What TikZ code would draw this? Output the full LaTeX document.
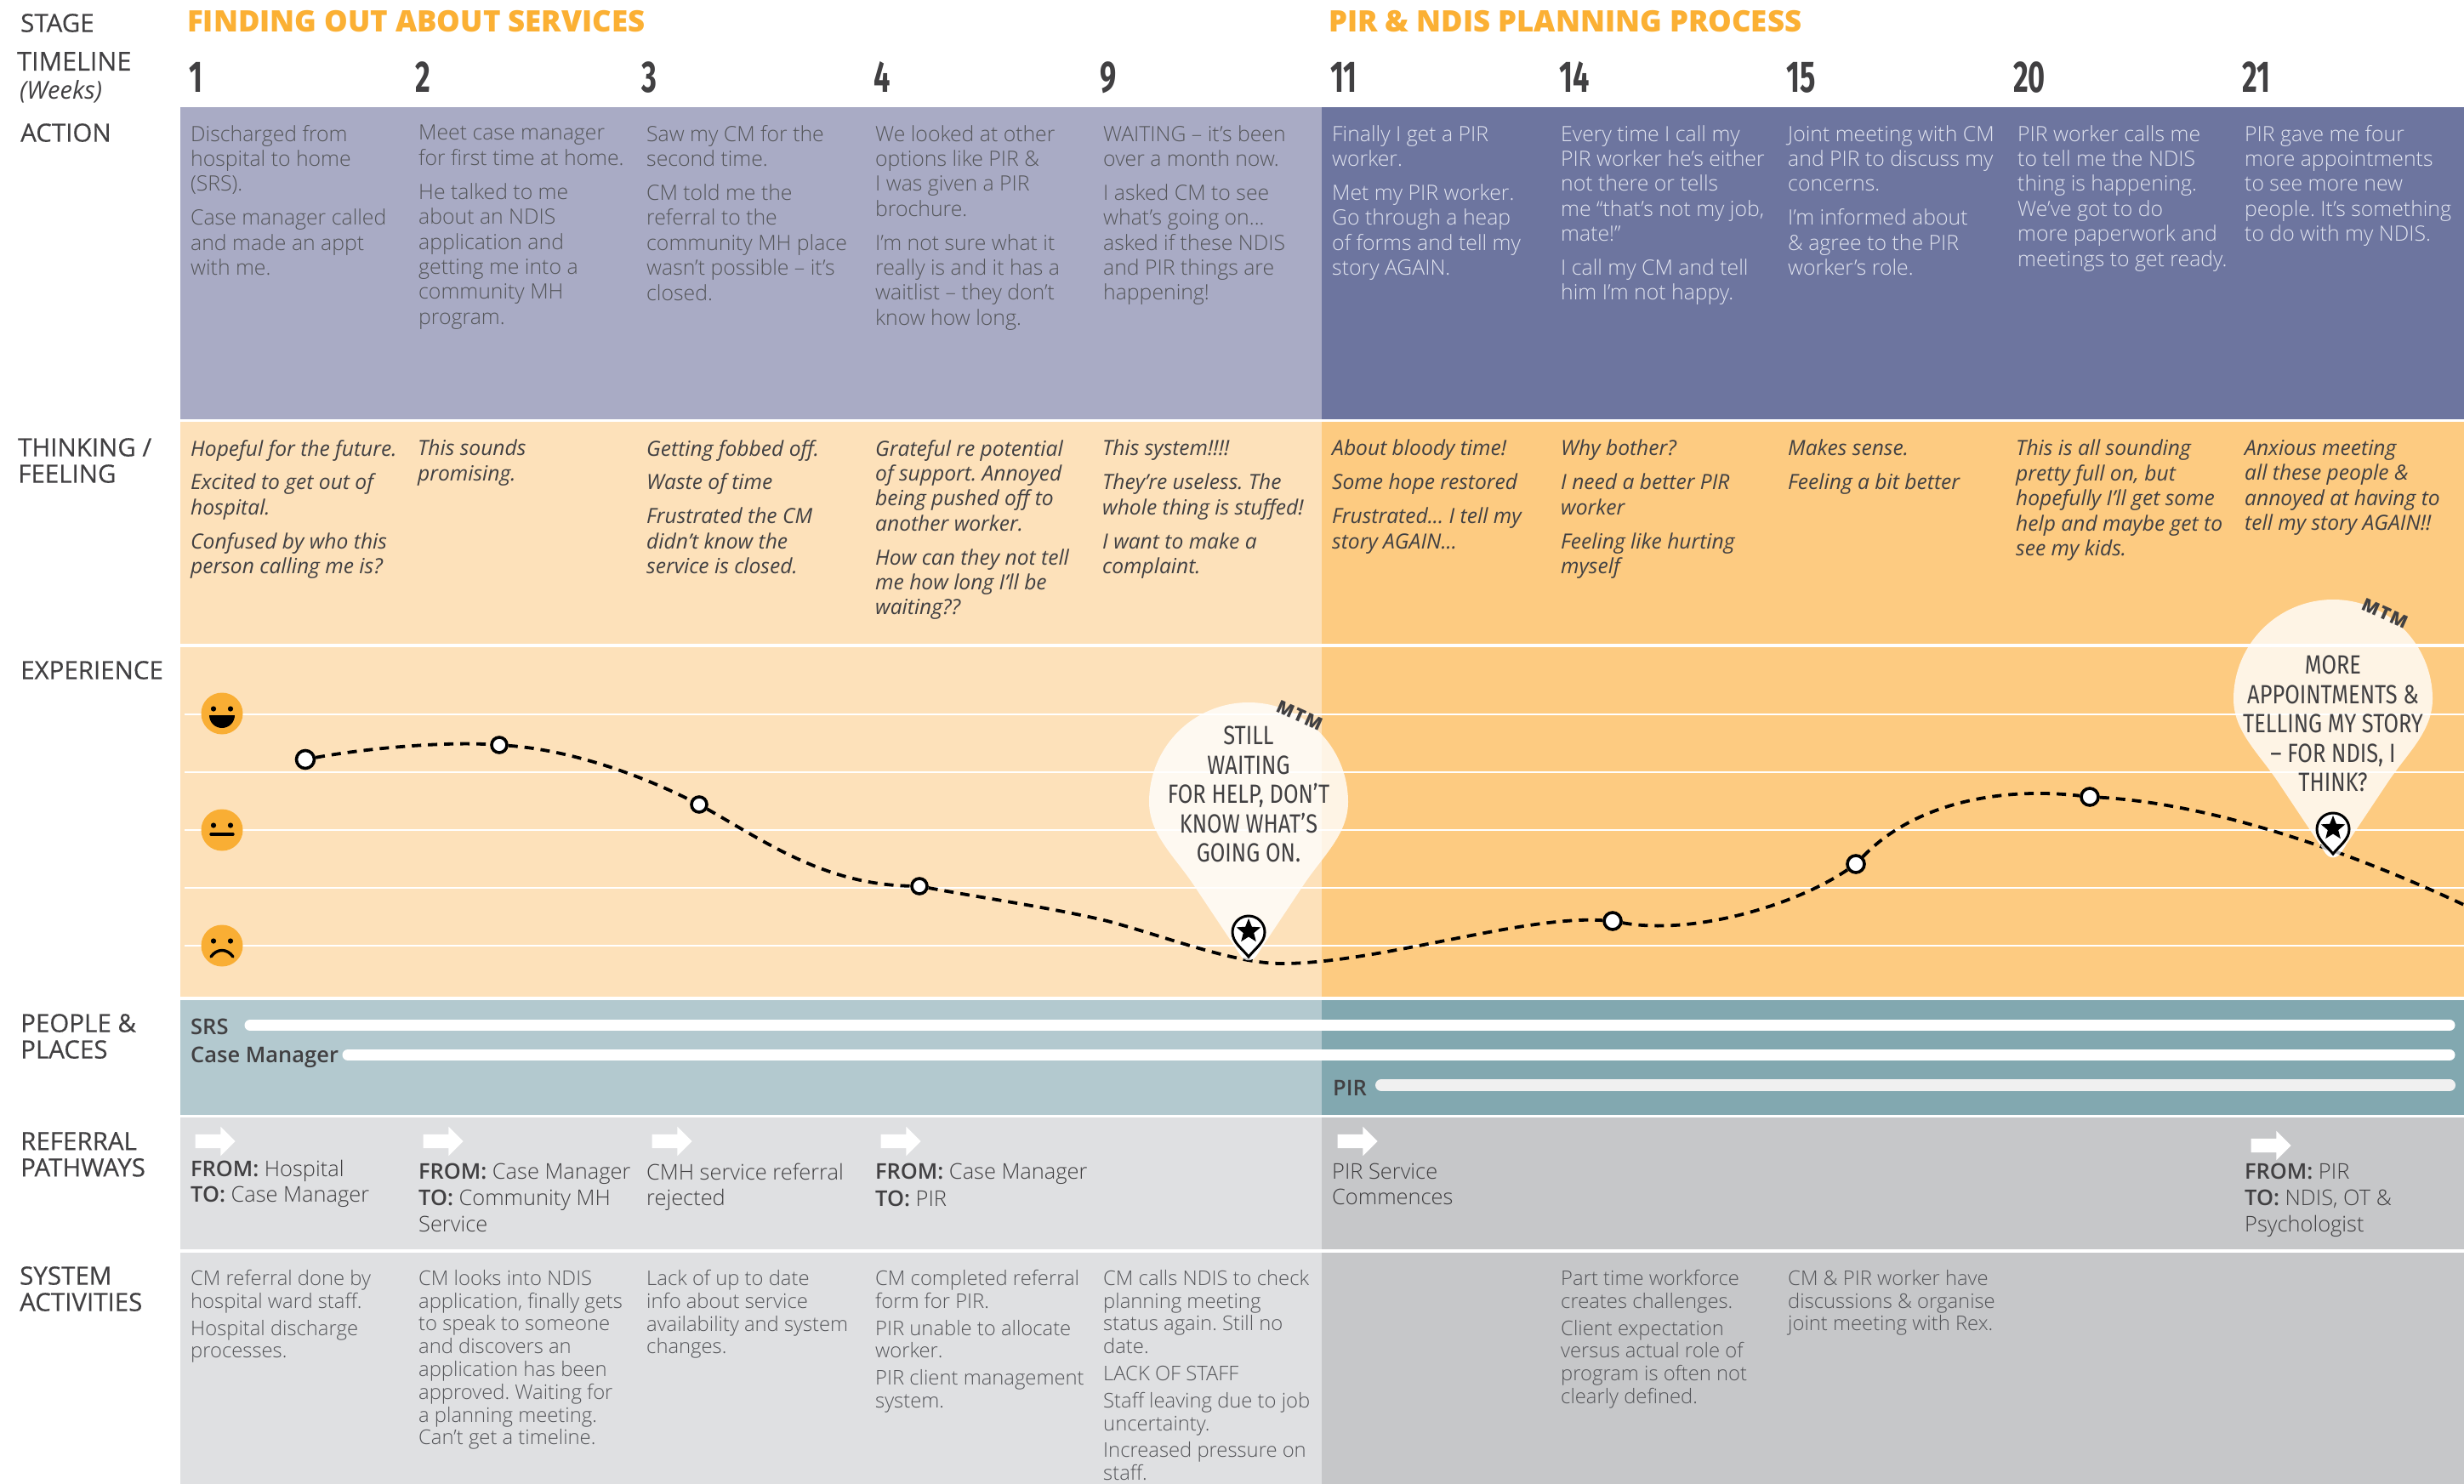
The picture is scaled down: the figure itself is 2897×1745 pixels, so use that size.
\documentclass[tikz,border=0pt]{standalone}
\usepackage{fontspec}
\usepackage{xcolor}
\usetikzlibrary{positioning,shapes.geometric,shapes.arrows}
\setmainfont{Open Sans}
\newfontfamily\lightfont{Open Sans Light}
\newfontfamily\semifont{Open Sans Semibold}
\newfontfamily\heavyfont{Open Sans Extrabold}
\newfontfamily\labelfont[FakeBold=0.35]{Open Sans}
\newfontfamily\handfont[FakeStretch=0.66]{Fira Sans}
\newfontfamily\bubblefont[FakeStretch=0.82]{Fira Sans}
\newfontfamily\mtmfont[LetterSpace=8]{Open Sans Extrabold}
\definecolor{actionA}{HTML}{A9ABC5}
\definecolor{actionB}{HTML}{6D759F}
\definecolor{feelA}{HTML}{FDE1BA}
\definecolor{feelB}{HTML}{FDCB81}
\definecolor{peopleA}{HTML}{B3C9CF}
\definecolor{peopleB}{HTML}{82A8B0}
\definecolor{greyA}{HTML}{DFE0E2}
\definecolor{greyB}{HTML}{C6C7C9}
\definecolor{headline}{HTML}{FBB034}
\definecolor{ink}{HTML}{414042}
\definecolor{softink}{HTML}{55565A}
\definecolor{paleink}{HTML}{E0E3EF}
\definecolor{facefill}{HTML}{F9AE34}
\newcommand{\bigpara}{\\[10.5pt]}
\newcommand{\sysgap}{\\[5pt]}
\newcommand{\refbold}[1]{{\semifont #1}}
\newcommand{\balloonpath}{(-117,0) arc[start angle=180,end angle=0,radius=117pt] .. controls (117,38) and (87,64) .. (65,97) -- (9,181) .. controls (4,188) and (-4,188) .. (-9,181) -- (-65,97) .. controls (-87,64) and (-117,38) .. (-117,0) -- cycle}
\tikzset{
  basic/.style   = {anchor=north west, inner sep=0pt, align=left, execute at begin node=\rule{0pt}{20pt}},
  rowlabel/.style = {basic, text=ink, font={\labelfont\fontsize{29.5}{31}\selectfont}},
  stagehead/.style = {basic, text=headline, font={\heavyfont\fontsize{34.8}{36}\selectfont}},
  weeknum/.style = {anchor=base west, inner sep=0pt, text=ink, font={\handfont\fontsize{52}{52}\selectfont\bfseries}},
  action/.style  = {basic, text=softink, font={\lightfont\fontsize{24.8}{29.4}\selectfont}},
  actionlight/.style = {action, text=paleink},
  feeling/.style = {basic, text=ink, font={\fontsize{24.6}{29.4}\selectfont\itshape}},
  refer/.style   = {basic, text=ink, font={\lightfont\fontsize{25.4}{30}\selectfont}},
  system/.style  = {basic, text=softink, font={\lightfont\fontsize{23.8}{26.8}\selectfont}},
  person/.style  = {basic, text=ink, font={\semifont\fontsize{25.5}{30}\selectfont}},
  bar/.style     = {line cap=round, line width=13pt, white},
  stop/.style    = {circle, draw=black, fill=white, line width=3.6pt, inner sep=0pt, minimum size=18pt},
  face/.style    = {circle, fill=facefill, inner sep=0pt, minimum size=49pt},
  feature/.style = {line width=3.4pt, black, line cap=round},
  eye/.style     = {fill=black},
  whitearrow/.style = {single arrow, fill=white, inner xsep=0pt, inner ysep=8pt, minimum height=47pt,
                   single arrow head extend=9pt, single arrow head indent=0pt},
  bubble/.style  = {anchor=north, inner sep=0pt, align=center, text=ink, execute at begin node=\rule{0pt}{20pt},
                   font={\bubblefont\fontsize{31}{34.5}\selectfont}},
  mtm/.style     = {inner sep=0pt, text=ink, font={\mtmfont\fontsize{21}{21}\selectfont}},
  starmark/.style = {star, star points=5, star point ratio=2.3, fill=black, inner sep=0pt, minimum size=30pt}
}
\begin{document}
\frenchspacing
\begin{tikzpicture}[x=1pt,y=-1pt]
\useasboundingbox (0,0) rectangle (2897,1745);

% coloured bands, one row at a time
\foreach \ytop/\ybot/\cola/\colb in {126/493/actionA/actionB, 496/757/feelA/feelB, 761/1172/feelA/feelB,
    1176/1311/peopleA/peopleB, 1314/1469/greyA/greyB, 1473/1745/greyA/greyB} {
  \fill[\cola] (212,\ytop) rectangle (1554,\ybot);
  \fill[\colb] (1554,\ytop) rectangle (2897,\ybot);
}

% lines of the experience graph
\foreach \yline in {840,908,976,1044,1112}
  \draw[white, line width=1.3pt] (217,\yline) -- (2897,\yline);

% row labels
\node[rowlabel] (lstage) at (24,16) {STAGE};
\node[rowlabel, font={\labelfont\fontsize{30.5}{33}\selectfont}] (ltime) at (20,61) {TIMELINE};
\node[rowlabel, font={\fontsize{29}{30}\selectfont\itshape}] (lweeks) at (23,94) {(Weeks)};
\node[rowlabel] (laction) at (24,145) {ACTION};
\node[rowlabel] (lthink) at (21,515) {THINKING /\\FEELING};
\node[rowlabel] (lexp) at (24,777) {EXPERIENCE};
\node[rowlabel] (lpeople) at (24,1192) {PEOPLE \&\\PLACES};
\node[rowlabel] (lrefer) at (24,1331) {REFERRAL\\PATHWAYS};
\node[rowlabel] (lsystem) at (23,1489) {SYSTEM\\ACTIVITIES};

% stages and weeks
\node[stagehead] (stage1) at (220,12) {FINDING OUT ABOUT SERVICES};
\node[stagehead] (stage2) at (1562,12) {PIR \& NDIS PLANNING PROCESS};
\foreach \wname/\xw/\wk in {w1/222/1,w2/488/2,w3/754/3,w4/1027/4,w5/1293/9,w6/1564/11,w7/1833/14,w8/2100/15,w9/2367/20,w10/2636/21}
  \node[weeknum] (\wname) at (\xw,108) {\wk};

% action row
\node[action] (a1) at (224,147) {Discharged from\\hospital to home\\(SRS).\bigpara Case manager called\\and made an appt\\with me.};
\node[action] (a2) at (492,147) {Meet case manager\\for first time at home.\bigpara He talked to me\\about an NDIS\\application and\\getting me into a\\community MH\\program.};
\node[action] (a3) at (760,147) {Saw my CM for the\\second time.\bigpara CM told me the\\referral to the\\community MH place\\wasn’t possible – it’s\\closed.};
\node[action] (a4) at (1029,147) {We looked at other\\options like PIR \&\\I was given a PIR\\brochure.\bigpara I’m not sure what it\\really is and it has a\\waitlist – they don’t\\know how long.};
\node[action] (a5) at (1297,147) {WAITING – it’s been\\over a month now.\bigpara I asked CM to see\\what’s going on...\\asked if these NDIS\\and PIR things are\\happening!};
\node[actionlight] (a6) at (1566,147) {Finally I get a PIR\\worker.\bigpara Met my PIR worker.\\Go through a heap\\of forms and tell my\\story AGAIN.};
\node[actionlight] (a7) at (1835,147) {Every time I call my\\PIR worker he’s either\\not there or tells\\me “that’s not my job,\\mate!”\bigpara I call my CM and tell\\him I’m not happy.};
\node[actionlight] (a8) at (2102,147) {Joint meeting with CM\\and PIR to discuss my\\concerns.\bigpara I’m informed about\\\& agree to the PIR\\worker’s role.};
\node[actionlight] (a9) at (2372,147) {PIR worker calls me\\to tell me the NDIS\\thing is happening.\\We’ve got to do\\more paperwork and\\meetings to get ready.};
\node[actionlight] (a10) at (2639,147) {PIR gave me four\\more appointments\\to see more new\\people. It’s something\\to do with my NDIS.};

% thinking and feeling row
\node[feeling] (t1) at (224,517) {Hopeful for the future.\bigpara Excited to get out of\\hospital.\bigpara Confused by who this\\person calling me is?};
\node[feeling] (t2) at (491,517) {This sounds\\promising.};
\node[feeling] (t3) at (760,517) {Getting fobbed off.\bigpara Waste of time\bigpara Frustrated the CM\\didn’t know the\\service is closed.};
\node[feeling] (t4) at (1029,517) {Grateful re potential\\of support. Annoyed\\being pushed off to\\another worker.\bigpara How can they not tell\\me how long I’ll be\\waiting??};
\node[feeling] (t5) at (1296,517) {This system!!!!\bigpara They’re useless. The\\whole thing is stuffed!\bigpara I want to make a\\complaint.};
\node[feeling] (t6) at (1566,517) {About bloody time!\bigpara Some hope restored\bigpara Frustrated... I tell my\\story AGAIN...};
\node[feeling] (t7) at (1835,517) {Why bother?\bigpara I need a better PIR\\worker\bigpara Feeling like hurting\\myself};
\node[feeling] (t8) at (2102,517) {Makes sense.\bigpara Feeling a bit better};
\node[feeling] (t9) at (2370,517) {This is all sounding\\pretty full on, but\\hopefully I’ll get some\\help and maybe get to\\see my kids.};
\node[feeling] (t10) at (2639,517) {Anxious meeting\\all these people \&\\annoyed at having to\\tell my story AGAIN!!};

% faces
\node[face] (happy) at (261,839) {};
\fill[eye] ([shift={(-10,-5.5)}]happy.center) circle (3.1pt) ([shift={(10,-5.5)}]happy.center) circle (3.1pt);
\fill[black] ([shift={(-15,2)}]happy.center) -- ([shift={(15,2)}]happy.center) arc[start angle=0,end angle=-180,radius=15pt] -- cycle;
\node[face] (plain) at (261,976) {};
\fill[eye] ([shift={(-10,-5.5)}]plain.center) circle (3.1pt) ([shift={(10,-5.5)}]plain.center) circle (3.1pt);
\draw[feature] ([shift={(-13,5)}]plain.center) -- ([shift={(13,5)}]plain.center);
\node[face] (sad) at (261,1112) {};
\fill[eye] ([shift={(-10,-5.5)}]sad.center) circle (3.1pt) ([shift={(10,-5.5)}]sad.center) circle (3.1pt);
\draw[feature] ([shift={(-13,13)}]sad.center) .. controls ([shift={(-6,3)}]sad.center) and ([shift={(6,3)}]sad.center) .. ([shift={(13,13)}]sad.center);

% balloons go under the curve
\fill[white, opacity=0.8] [shift={(1468,943)}] \balloonpath;
\fill[white, opacity=0.8] [shift={(2743,822)}] \balloonpath;

% experience curve
\node[stop, minimum size=21pt] (p1) at (359,893) {};
\node[stop] (p2) at (587,876) {};
\node[stop] (p3) at (822,946) {};
\node[stop] (p4) at (1081,1042) {};
\node[stop, minimum size=20pt] (p5) at (1896,1083) {};
\node[stop, minimum size=20pt] (p6) at (2182,1016) {};
\node[stop, minimum size=20pt] (p7) at (2457,937) {};
\coordinate (q1) at (1302,1083);
\coordinate (q2) at (1507,1133);
\coordinate (qend) at (2897,1064);
\draw[line width=3.8pt, dash pattern=on 11pt off 8pt]
  (p1) .. controls (430,880) and (520,872) .. (p2)
  .. controls (670,882) and (750,910) .. (p3)
  .. controls (900,990) and (970,1040) .. (p4)
  .. controls (1150,1055) and (1240,1068) .. (q1)
  .. controls (1370,1101) and (1450,1133) .. (q2)
  .. controls (1620,1133) and (1790,1076) .. (p5)
  .. controls (1990,1100) and (2110,1065) .. (p6)
  .. controls (2250,945) and (2350,925) .. (p7)
  .. controls (2600,945) and (2760,1000) .. (qend);

% tips of the balloons fade the curve, then the pin marks
\foreach \xb/\yb/\sname in {1468/943/s1, 2743/822/s2} {
  \begin{scope}[shift={(\xb,\yb)}]
    \begin{scope}
      \clip (-45,172) rectangle (45,195);
      \fill[white, opacity=0.75] \balloonpath;
    \end{scope}
    \draw[fill=white, line width=3pt] (-19,153) arc[start angle=180,end angle=0,radius=19pt]
      .. controls (19,165) and (8,172) .. (0,182) .. controls (-8,172) and (-19,165) .. (-19,153) -- cycle;
    \node[starmark] (\sname) at (0,152) {};
  \end{scope}
}

% balloon texts
\node[bubble] (b1) at (1468,854) {STILL\\WAITING\\FOR HELP, DON’T\\KNOW WHAT’S\\GOING ON.};
\node[bubble] (b2) at (2743,771) {MORE\\APPOINTMENTS \&\\TELLING MY STORY\\– FOR NDIS, I\\THINK?};
\node[mtm, rotate=-24] (m1) at (1528,841) {MTM};
\node[mtm, rotate=-24] (m2) at (2804,721) {MTM};

% people and places
\node[person] (srs) at (224,1196) {SRS};
\node[person] (cm) at (224,1229) {Case Manager};
\node[person] (pir) at (1567,1268) {PIR};
\coordinate (srsend) at (2880,1205.5);
\coordinate (cmend) at (2880,1240.5);
\coordinate (pirend) at (2880,1276);
\draw[bar] (294,1205.5) -- (srsend);
\draw[bar] (409,1240.5) -- (cmend);
\draw[bar, line width=14pt, draw=white!94!black] (1624,1276) -- (pirend);

% referral pathways
\foreach \arrname/\xa/\ya in {r1/249/1342,r2/517/1342,r3/786/1342,r4/1055/1342,r6/1592/1342,r10/2666/1347}
  \node[whitearrow] (\arrname) at (\xa,\ya) {};
\node[refer] (f1) at (224,1364) {\refbold{FROM:} Hospital\\[0pt]\refbold{TO:} Case Manager};
\node[refer, font={\lightfont\fontsize{25.4}{31}\selectfont}] (f2) at (492,1368) {\refbold{FROM:} Case Manager\\\refbold{TO:} Community MH\\Service};
\node[refer] (f3) at (760,1368) {CMH service referral\\rejected};
\node[refer, font={\lightfont\fontsize{25.4}{32}\selectfont}] (f4) at (1029,1368) {\refbold{FROM:} Case Manager\\\refbold{TO:} PIR};
\node[refer] (f6) at (1566,1368) {PIR Service\\Commences};
\node[refer, font={\lightfont\fontsize{25.4}{31}\selectfont}] (f10) at (2639,1368) {\refbold{FROM:} PIR\\\refbold{TO:} NDIS, OT \&\\Psychologist};

% system activities
\node[system] (s1a) at (224,1493) {CM referral done by\\hospital ward staff.\sysgap Hospital discharge\\processes.};
\node[system] (s2a) at (492,1493) {CM looks into NDIS\\application, finally gets\\to speak to someone\\and discovers an\\application has been\\approved. Waiting for\\a planning meeting.\\Can’t get a timeline.};
\node[system] (s3a) at (760,1493) {Lack of up to date\\info about service\\availability and system\\changes.};
\node[system] (s4a) at (1029,1493) {CM completed referral\\form for PIR.\sysgap PIR unable to allocate\\worker.\sysgap PIR client management\\system.};
\node[system] (s5a) at (1297,1493) {CM calls NDIS to check\\planning meeting\\status again. Still no\\date.\sysgap LACK OF STAFF\sysgap Staff leaving due to job\\uncertainty.\sysgap Increased pressure on\\staff.};
\node[system] (s7a) at (1835,1493) {Part time workforce\\creates challenges.\sysgap Client expectation\\versus actual role of\\program is often not\\clearly defined.};
\node[system] (s8a) at (2102,1493) {CM \& PIR worker have\\discussions \& organise\\joint meeting with Rex.};

\end{tikzpicture}
\end{document}
